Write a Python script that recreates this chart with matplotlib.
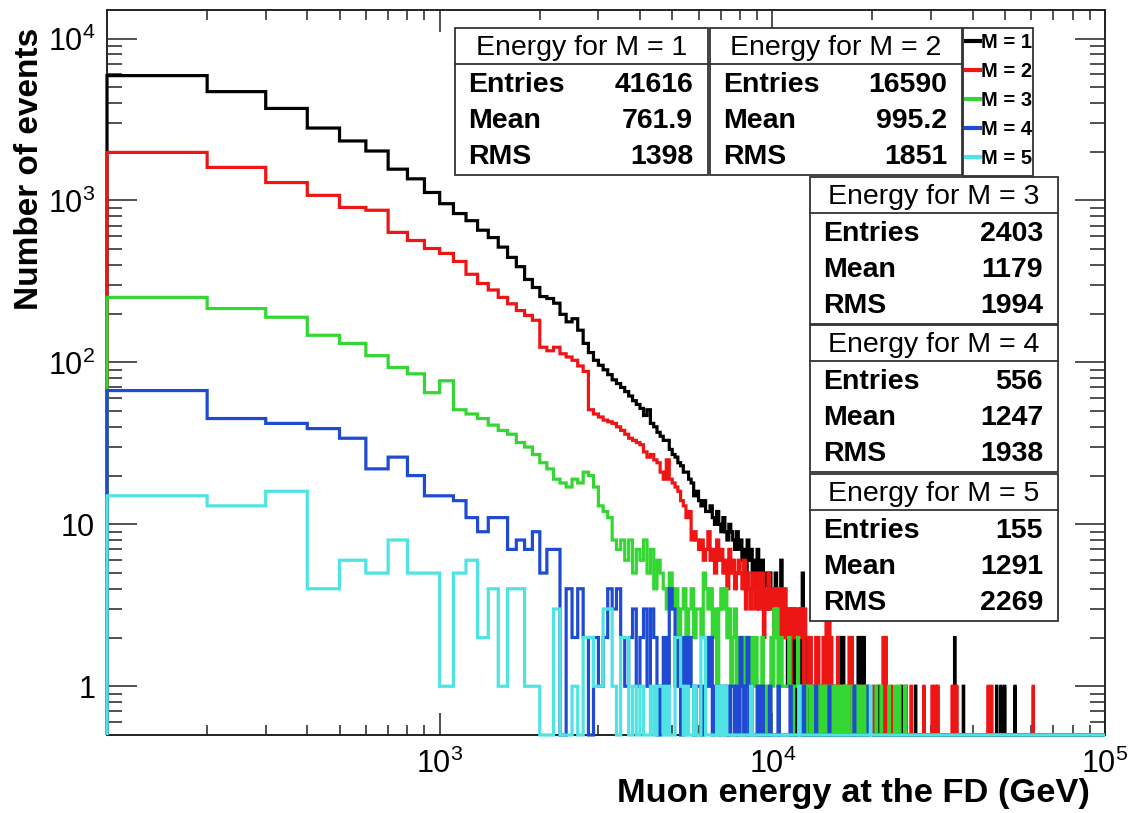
import numpy as np
import matplotlib
matplotlib.use("Agg")
import matplotlib.pyplot as plt
from matplotlib.patches import Rectangle
from matplotlib.lines import Line2D
from matplotlib.ticker import FixedLocator, FixedFormatter, NullFormatter

plt.rcParams['font.family'] = ['Liberation Sans', 'DejaVu Sans']
plt.rcParams['mathtext.fontset'] = 'custom'
plt.rcParams['mathtext.rm'] = 'Liberation Sans'
plt.rcParams['mathtext.it'] = 'Liberation Sans:italic'
plt.rcParams['mathtext.bf'] = 'Liberation Sans:bold'

# histogram binning: 100 GeV bins, first drawn bin starts at 100 GeV
bin_width = 100
e_lo, e_hi = 100, 100000

# counts per bin from 100 GeV upward (rows: 100-900, 1000-1900, 2000-2900, ...)
m1_counts = [5900, 4700, 3700, 2800, 2330, 2020, 1560, 1360, 1120,
             955, 830, 750, 655, 590, 515, 445, 390, 325, 290,
             255, 248, 232, 198, 178, 186, 158, 131, 115, 103,
             96, 90, 84, 78, 74, 70, 66, 62, 58, 55,
             52, 47, 51, 42, 40, 37, 35, 33, 33, 29,
             27, 26, 24, 23, 21, 21, 19, 18, 15, 16,
             14, 13, 14, 12, 12, 13, 11, 10, 12, 10,
             9, 11, 9, 8, 10, 9, 8, 7, 9, 7,
             8, 6, 7, 5, 8, 6, 7, 5, 6, 4,
             7, 5, 4, 6, 3, 5, 4, 3, 5, 4,
             4, 3, 5, 2, 3, 4, 6, 2, 3, 2,
             3, 1, 2, 2, 3, 1, 2, 0, 1, 2,
             1, 2, 1, 5, 1, 0, 2, 1, 0, 1]
m2_counts = [1980, 1600, 1290, 1075, 905, 870, 635, 566, 505,
             471, 420, 350, 307, 280, 252, 230, 209, 195, 182,
             124, 118, 124, 113, 108, 103, 95, 88, 51, 48,
             46, 44, 43, 42, 40, 38, 36, 34, 33, 32,
             31, 28, 26, 27, 25, 24, 21, 19, 25, 19,
             18, 17, 16, 14, 13, 11, 12, 8, 9, 8,
             7, 8, 6, 7, 9, 6, 7, 5, 8, 6,
             7, 5, 6, 4, 7, 5, 6, 4, 5, 6,
             5, 4, 6, 3, 5, 4, 3, 5, 4, 3,
             5, 3, 4, 5, 2, 4, 3, 5, 4, 3,
             4, 2, 4, 3, 4, 2, 4, 3, 2, 4,
             3, 2, 3, 1, 3, 2, 3, 2, 3, 3,
             2, 3, 2, 3, 1, 3, 2, 2, 1, 2]
m3_counts = [252, 215, 190, 147, 131, 110, 93, 85, 65,
             77, 51, 48, 45, 41, 38, 36, 32, 30, 27,
             24, 22, 19, 18, 17, 19, 18, 21, 20, 17,
             13, 12, 11, 8, 7, 8, 6, 8, 5, 7,
             6, 8, 5, 7, 4, 6, 5, 4, 3, 5,
             3, 4, 2, 3, 4, 1, 3, 4, 2, 3,
             3, 2, 5, 4, 3, 4, 2, 3, 1, 3,
             4, 3, 4, 2, 3, 1, 2, 3, 1, 2,
             2, 1, 2, 1, 0, 2, 1, 2, 1, 2,
             1, 0, 1, 2, 1, 0, 1, 1, 0, 2,
             1, 3, 2, 3, 1, 1, 2, 1, 1, 1,
             1, 1, 2, 1, 1, 0, 1, 1, 1, 2,
             1, 1, 0, 1, 1, 1, 0, 1, 1, 1]
m4_counts = [67, 45, 42, 39, 34, 22, 26, 20, 15,
             15, 14, 11, 9, 11, 11, 7, 8, 7, 9,
             5, 7, 7, 0, 4, 2, 4, 2, 0, 2,
             1, 2, 4, 3, 4, 2, 1, 2, 3, 1,
             2, 3, 1, 3, 2, 0, 1, 2, 1, 4,
             3, 1, 2, 0, 2, 1, 2, 1, 0, 1,
             1, 0, 1, 2, 1, 2, 0, 1, 1, 0,
             1, 1, 0, 1, 0, 1, 1, 0, 1, 0,
             2, 1, 0, 1, 2, 0, 1, 0, 0, 0,
             1, 0, 0, 1, 0, 0, 0, 0, 1, 0,
             0, 0, 0, 0, 1, 0, 0, 0, 0, 0,
             0, 0, 0, 1, 0, 0, 0, 0, 0, 0,
             0, 0, 0, 0, 1, 0, 0, 0, 0, 0]
m5_counts = [15, 13, 16, 4, 6, 5, 8, 5, 5,
             1, 5, 6, 2, 4, 1, 4, 4, 1, 1,
             0, 0, 3, 0, 0, 1, 0, 2, 2, 1,
             1, 3, 3, 1, 0, 2, 2, 0, 1, 0,
             1, 0, 0, 1, 0, 1, 1, 0, 1, 0,
             0, 2, 2, 1, 0, 1, 0, 0, 1, 0,
             0, 2, 2, 0, 0, 0, 0, 0, 1, 0,
             1, 0, 1, 0, 0, 0, 0, 0, 0, 0]

# sparse high-energy bins: lower bin edge (GeV) and count
m1_tail_e = [13400, 14100, 15200, 16000, 16300, 17100, 18100, 18500, 18800,
             20800, 24400, 26900, 35300, 37500, 47200, 48600, 49900, 53600]
m1_tail_n = [1, 1, 1, 2, 2, 1, 2, 2, 2, 1, 1, 1, 2, 1, 1, 1, 1, 1]
m2_tail_e = [13000, 13200, 13500, 13700, 13900, 14200, 14500, 14600, 14800,
             15000, 15300, 15700, 16100, 16600, 17000, 17300, 17700, 18300,
             19000, 20100, 21500, 21900, 22800, 25200, 26100, 28500, 30200,
             30900, 31400, 34700, 35200, 35800, 44500, 45600, 60800]
m2_tail_n = [2, 1, 2, 2, 1, 2, 3, 2, 3, 2, 1, 2, 1, 1, 2, 2, 1, 1,
             1, 1, 2, 2, 1, 1, 1, 1, 1, 1, 1, 1, 1, 1, 1, 1, 1]
m3_tail_e = [13100, 13400, 13800, 14100, 14400, 14700, 15000, 15400, 15800,
             16200, 16500, 16900, 17400, 17800, 18200, 18700, 19200, 20500,
             21200, 22400, 23500, 24100, 25100]
m3_tail_n = [1] * 23
m4_tail_e = [13500, 14800, 17600, 19400]
m4_tail_n = [1, 1, 1, 1]
m5_tail_e = [8600, 12000, 19700]
m5_tail_n = [1, 1, 1]

labels = ["M = 1", "M = 2", "M = 3", "M = 4", "M = 5"]
colors = ["#000000", "#ee1515", "#33d633", "#1f4bd2", "#4fe3e3"]
entries = ["41616", "16590", "2403", "556", "155"]
means = ["761.9", "995.2", "1179", "1247", "1291"]
rms = ["1398", "1851", "1994", "1938", "2269"]

series = [(m1_counts, m1_tail_e, m1_tail_n),
          (m2_counts, m2_tail_e, m2_tail_n),
          (m3_counts, m3_tail_e, m3_tail_n),
          (m4_counts, m4_tail_e, m4_tail_n),
          (m5_counts, m5_tail_e, m5_tail_n)]

W, H = 1133, 813
ymin, ymax = 0.5, 1.5e4


def fx(px):
    return px / W


def fy(py):
    return 1 - py / H


fig = plt.figure(figsize=(W / 100, H / 100), dpi=100)
ax = fig.add_axes([fx(107), fy(735), (1105 - 107) / W, (735 - 10) / H])

edges = np.arange(e_lo, e_hi + bin_width, bin_width)
for (dense, tail_e, tail_n), col in zip(series, colors):
    counts = np.zeros(len(edges) - 1)
    counts[:len(dense)] = dense
    for e, n in zip(tail_e, tail_n):
        counts[(e - e_lo) // bin_width] = n
    # empty bins are drawn down to the frame bottom, as ROOT does
    vals = np.where(counts > 0, counts, ymin)
    ax.stairs(vals, edges, baseline=ymin, color=col, lw=2.3,
              clip_on=False, zorder=2.6)

ax.set_xscale('log')
ax.set_yscale('log')
ax.set_xlim(e_lo, e_hi)
ax.set_ylim(ymin, ymax)

ax.xaxis.set_major_locator(FixedLocator([1e3, 1e4, 1e5]))
ax.xaxis.set_major_formatter(FixedFormatter(['$10^{3}$', '$10^{4}$', '$10^{5}$']))
xminor = [m * 10 ** k for k in (2, 3, 4) for m in range(2, 10)]
ax.xaxis.set_minor_locator(FixedLocator(xminor))
ax.xaxis.set_minor_formatter(NullFormatter())

ax.yaxis.set_major_locator(FixedLocator([1, 10, 100, 1000, 10000]))
ax.yaxis.set_major_formatter(FixedFormatter(['1', '10', '$10^{2}$', '$10^{3}$', '$10^{4}$']))
yminor = [m * 10.0 ** k for k in (-1, 0, 1, 2, 3) for m in range(2, 10) if m * 10.0 ** k > ymin]
ax.yaxis.set_minor_locator(FixedLocator(yminor))
ax.yaxis.set_minor_formatter(NullFormatter())

ax.tick_params(which='both', direction='in', top=True, right=True,
               width=1.1, color='#222222', labelsize=22)
ax.tick_params(axis='x', which='major', length=16, pad=10)
ax.tick_params(axis='x', which='minor', length=7.5)
ax.tick_params(axis='y', which='major', length=21.5, pad=8.5)
ax.tick_params(axis='y', which='minor', length=11)
for sp in ax.spines.values():
    sp.set_linewidth(1.4)
    sp.set_color('#222222')

fig.text(fx(30), fy(28), "Number of events", rotation=90, ha='center', va='top',
         fontsize=24, fontweight='bold')
fig.text(fx(1090), fy(793), "Muon energy at the FD (GeV)", ha='right', va='center',
         fontsize=24.8, fontweight='bold')

edge_col = '#333333'


def stats_box(left, top, width, title, n_ent, mean, r):
    height = 147
    fig.add_artist(Rectangle((fx(left), fy(top + height)), width / W, height / H,
                             transform=fig.transFigure, facecolor='white',
                             edgecolor=edge_col, lw=1.3, zorder=10))
    fig.add_artist(Line2D([fx(left), fx(left + width)], [fy(top + 36)] * 2,
                          transform=fig.transFigure, color=edge_col, lw=1.3, zorder=11))
    fig.text(fx(left + width / 2), fy(top + 27), title, ha='center', va='baseline',
             fontsize=20.5, zorder=12)
    for i, (name, val) in enumerate([("Entries", n_ent), ("Mean", mean), ("RMS", r)]):
        yb = top + 64 + 36 * i
        fig.text(fx(left + 13), fy(yb), name, ha='left', va='baseline',
                 fontsize=20.5, fontweight='bold', zorder=12)
        fig.text(fx(left + width - 15), fy(yb), val, ha='right', va='baseline',
                 fontsize=20.5, fontweight='bold', zorder=12)


box_pos = [(455, 28, 253), (710, 28, 252), (810, 177, 248), (810, 325, 248), (810, 474, 248)]
for k, (l, t, w) in enumerate(box_pos):
    stats_box(l, t, w, "Energy for M = %d" % (k + 1), entries[k], means[k], rms[k])

# legend
fig.add_artist(Rectangle((fx(963), fy(176)), 70 / W, 148 / H, transform=fig.transFigure,
                         facecolor='white', edgecolor=edge_col, lw=1.3, zorder=10))
for k, (lab, col) in enumerate(zip(labels, colors)):
    yc = 41 + 29 * k
    fig.add_artist(Line2D([fx(966), fx(980)], [fy(yc)] * 2, transform=fig.transFigure,
                          color=col, lw=3, zorder=11))
    fig.text(fx(981), fy(yc + 7), lab, ha='left', va='baseline', fontsize=14.5,
             fontweight='bold', zorder=12)

fig.savefig("out.png", dpi=100)
